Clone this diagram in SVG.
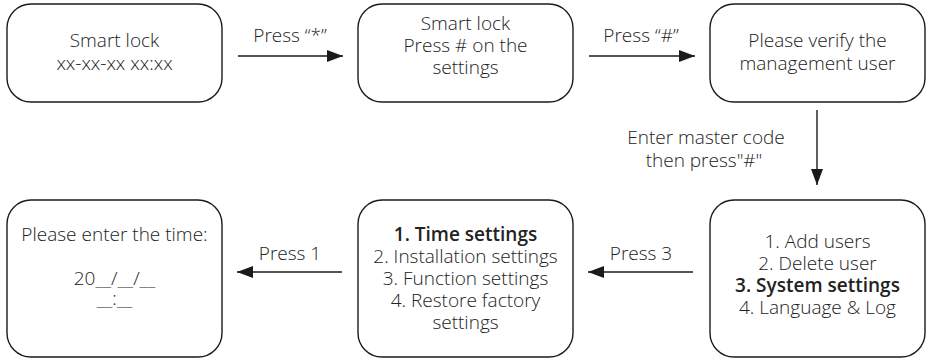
<svg xmlns="http://www.w3.org/2000/svg" width="931" height="359" viewBox="0 0 931 359">
<defs>
<marker id="ah" markerWidth="16" markerHeight="12" refX="16" refY="6" orient="auto" markerUnits="userSpaceOnUse">
<path d="M0,0 L16,6 L0,12 Z" fill="#1a1a1a"/>
</marker>
<style>
.box{fill:#fff;stroke:#1a1a1a;stroke-width:1.4}
.t{font-family:"Open Sans","Liberation Sans",sans-serif;font-size:19px;font-weight:300;fill:#222;text-anchor:middle}
.b{font-weight:600}
.c{stroke:#1a1a1a;stroke-width:1.4;fill:none;marker-end:url(#ah)}
</style>
</defs>
<rect width="931" height="359" fill="#fff"/>
<g id="n1">
<rect class="box" x="7" y="4" width="215" height="98" rx="24"/>
<text class="t" x="114.5" y="47">Smart lock</text>
<text class="t" x="114.5" y="70">xx-xx-xx xx:xx</text>
</g>
<g id="n2">
<rect class="box" x="358" y="4" width="215" height="98" rx="24"/>
<text class="t" x="465.5" y="30">Smart lock</text>
<text class="t" x="465.5" y="52">Press # on the</text>
<text class="t" x="465.5" y="74">settings</text>
</g>
<g id="n3">
<rect class="box" x="710" y="4" width="215" height="98" rx="24"/>
<text class="t" x="817.5" y="47">Please verify the</text>
<text class="t" x="817.5" y="70">management user</text>
</g>
<g id="n4">
<rect class="box" x="7" y="200" width="215" height="157" rx="24"/>
<text class="t" x="114.5" y="241">Please enter the time:</text>
<text class="t" x="114.5" y="285">20__/__/__</text>
<text class="t" x="114.5" y="305">__:__</text>
</g>
<g id="n5">
<rect class="box" x="358" y="200" width="215" height="157" rx="24"/>
<text class="t b" x="465.5" y="241">1. Time settings</text>
<text class="t" x="465.5" y="263">2. Installation settings</text>
<text class="t" x="465.5" y="285">3. Function settings</text>
<text class="t" x="465.5" y="307">4. Restore factory</text>
<text class="t" x="465.5" y="329">settings</text>
</g>
<g id="n6">
<rect class="box" x="710" y="200" width="215" height="157" rx="24"/>
<text class="t" x="817.5" y="248">1. Add users</text>
<text class="t" x="817.5" y="270">2. Delete user</text>
<text class="t b" x="817.5" y="292">3. System settings</text>
<text class="t" x="817.5" y="314">4. Language &amp; Log</text>
</g>
<g id="connectors">
<line class="c" x1="238" y1="56" x2="343" y2="56"/>
<line class="c" x1="589" y1="56" x2="695" y2="56"/>
<line class="c" x1="817" y1="110" x2="817" y2="185"/>
<line class="c" x1="342" y1="272" x2="237" y2="272"/>
<line class="c" x1="693" y1="272" x2="588" y2="272"/>
<text class="t" x="290" y="42">Press “*”</text>
<text class="t" x="641" y="42">Press “#”</text>
<text class="t" x="706" y="144">Enter master code</text>
<text class="t" x="704" y="167">then press"#"</text>
<text class="t" x="290" y="260">Press 1</text>
<text class="t" x="641" y="260">Press 3</text>
</g>
</svg>
